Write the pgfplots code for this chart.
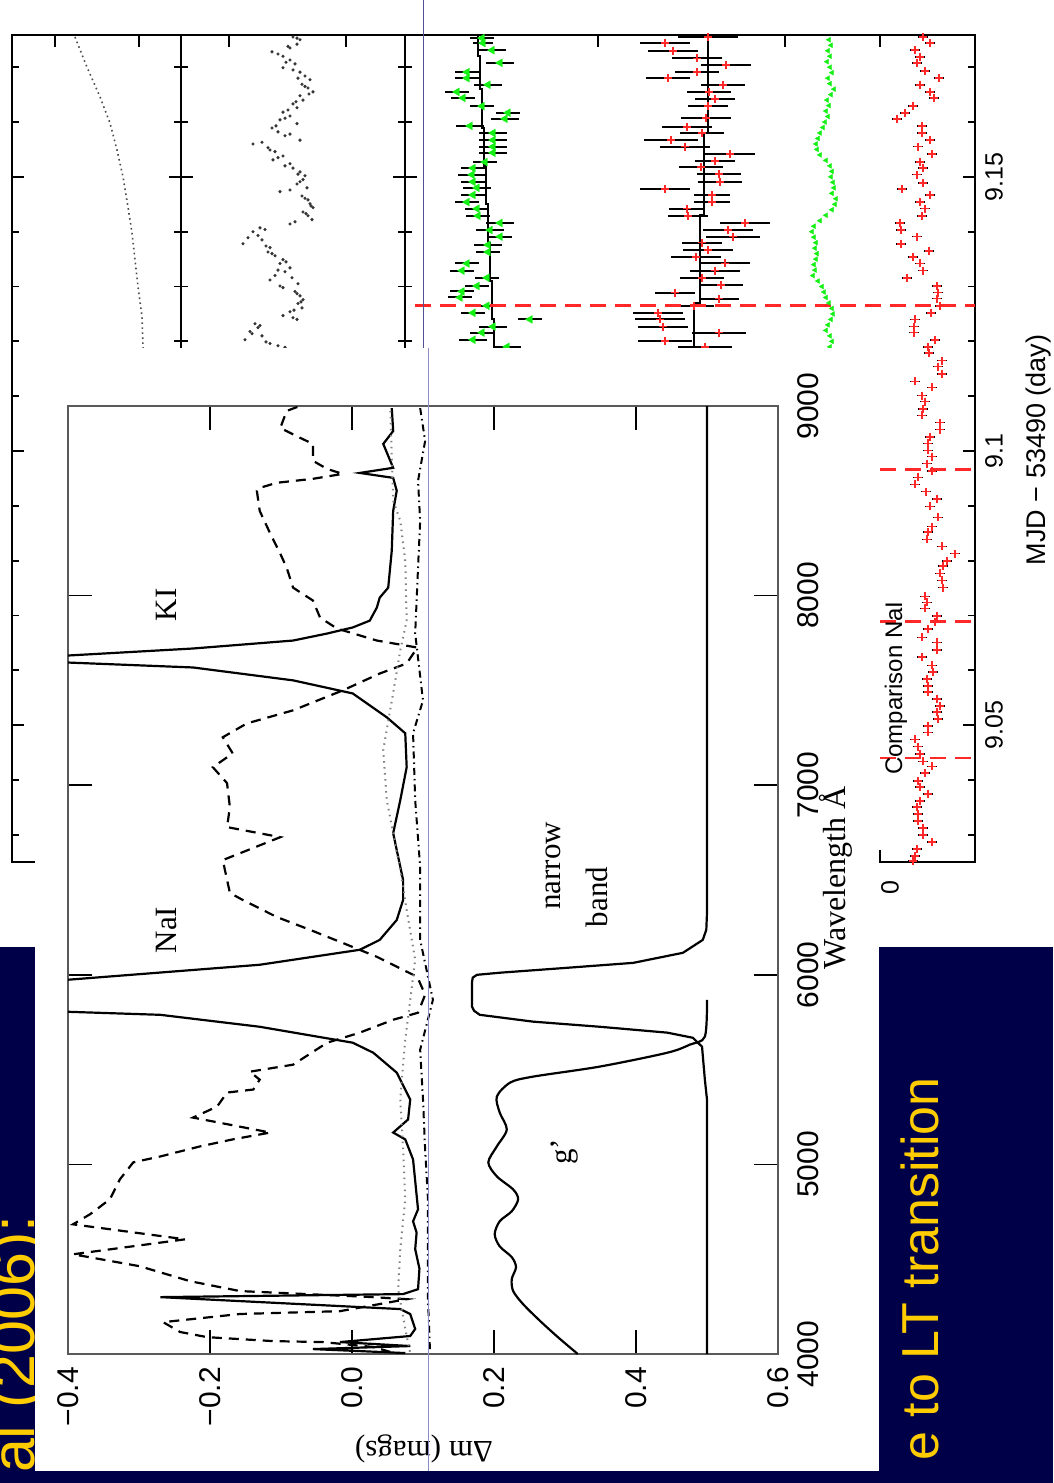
\documentclass[border=0pt]{standalone}
\usepackage{fontspec}
\setmainfont{Liberation Serif}
\newfontfamily\arial{Liberation Sans}
\usepackage{pgfplots}
\pgfplotsset{compat=1.18}
\definecolor{navy}{RGB}{0,0,72}
\definecolor{slideyellow}{RGB}{255,204,0}
\definecolor{lcgreen}{RGB}{20,240,20}
\definecolor{lcred}{RGB}{255,40,40}
\definecolor{thinblue}{RGB}{80,80,150}
\definecolor{thinblue2}{RGB}{140,140,200}
\pgfplotsset{
 lc/.style={scale only axis, height=827pt, anchor=north west,
  ymin=9.02505, ymax=9.17587,
  axis line style={line width=1.8pt, black},
  ytick={9.05,9.1,9.15},
  minor ytick={9.03,9.04,9.06,9.07,9.08,9.09,9.11,9.12,9.13,9.14,9.16,9.17},
  major tick length=12pt, minor tick length=7pt,
  every tick/.style={black, line width=1.8pt},
  yticklabels={}, xticklabels={}},
}
\begin{document}
\begin{tikzpicture}
\useasboundingbox (0pt,0pt) rectangle (1053pt,-1483pt);
\clip (0pt,0pt) rectangle (1053pt,-1483pt);
\fill[navy] (0pt,0pt) rectangle (1053pt,-1483pt);
\node[rotate=90, anchor=base east, inner sep=0pt, text=slideyellow, font=\arial\fontsize{61}{61}\selectfont] at (34pt,-1215pt) {al (2006):};
\node[rotate=90, anchor=base east, inner sep=0pt, text=slideyellow, font=\arial\fontsize{52}{52}\selectfont] at (938pt,-1077pt) {e to LT transition};
\fill[white] (0pt,0pt) rectangle (1053pt,-947pt);

% ---------------- light curves ----------------
\begin{axis}[lc, at={(12pt,-35pt)}, width=169pt, xmin=12, xmax=181, xtick={55,139}]
\addplot[gray!60!black, line width=1.6pt, dash pattern=on 1.6pt off 3.4pt] coordinates {
(75,9.1755) (87,9.1700) (100,9.1646) (110,9.1598) (117,9.1549) (123,9.1500) (128,9.1445) (132,9.1398) (135,9.1349) (138,9.1300) (142,9.1245) (143,9.1190) (146,9.1100)};
\end{axis}

\begin{axis}[lc, at={(181pt,-35pt)}, width=224pt, xmin=181, xmax=405, xtick={229,346}]
\addplot[only marks, mark=*, mark size=1.4pt, gray!40!black] coordinates {
(293,9.1755) (300,9.1750) (297,9.1742) (290,9.1735) (272,9.1728) (283,9.1720) (290,9.1713) (295,9.1706) (283,9.1699) (300,9.1691) (305,9.1684) (310,9.1677) (302,9.1669) (308,9.1662) (313,9.1655) (300,9.1648) (303,9.1640) (293,9.1633) (297,9.1626) (283,9.1618) (290,9.1611) (280,9.1604) (297,9.1597) (272,9.1589) (278,9.1582) (285,9.1575) (300,9.1567) (253,9.1560) (268,9.1553) (275,9.1546) (283,9.1538) (273,9.1531) (290,9.1524) (293,9.1516) (300,9.1509) (305,9.1502) (303,9.1495) (297,9.1487) (307,9.1480) (280,9.1473) (302,9.1465) (308,9.1458) (310,9.1451) (313,9.1444) (303,9.1436) (308,9.1429) (312,9.1422) (290,9.1414) (260,9.1407) (253,9.1400) (258,9.1393) (262,9.1385) (243,9.1378) (270,9.1371) (268,9.1363) (275,9.1356) (283,9.1349) (280,9.1342) (290,9.1334) (285,9.1327) (275,9.1320) (270,9.1312) (298,9.1305) (283,9.1298) (295,9.1291) (300,9.1283) (303,9.1276) (298,9.1269) (302,9.1261) (290,9.1254) (283,9.1247) (297,9.1240) (255,9.1232) (258,9.1225) (250,9.1218) (262,9.1210) (245,9.1203) (270,9.1196) (285,9.1189)
(297,9.1753) (288,9.1738) (278,9.1724) (286,9.1709) (293,9.1695) (298,9.1680) (305,9.1665) (309,9.1651) (296,9.1637) (288,9.1622) (285,9.1607) (276,9.1593) (290,9.1578) (262,9.1563) (270,9.1549) (278,9.1535) (285,9.1520) (298,9.1505) (300,9.1491) (290,9.1476) (305,9.1461) (311,9.1447) (306,9.1433) (295,9.1418) (265,9.1404) (248,9.1389) (266,9.1374) (272,9.1360) (286,9.1345) (278,9.1330) (292,9.1316) (280,9.1301) (297,9.1287) (301,9.1272) (294,9.1257) (293,9.1243) (260,9.1229) (252,9.1214) (266,9.1199) (278,9.1192)};
\end{axis}

\begin{axis}[lc, at={(405pt,-35pt)}, width=570pt, xmin=405, xmax=975, xtick={598,785,880},
  yticklabels={9.05,9.1,9.15}, yticklabel pos=right,
  yticklabel style={rotate=90, anchor=north, inner sep=0pt, font=\arial\fontsize{25}{25}\selectfont},
  yticklabel shift=10pt]
% P3 green with error bars
\addplot[only marks, mark=triangle*, mark size=4.5pt, mark options={rotate=90, fill=lcgreen, draw=lcgreen},
  error bars/.cd, x dir=both, x explicit, error mark=none, error bar style={line width=2pt, black}]
  table[x index=0, y index=1, x error index=2, row sep=\\] {
482 9.1753 12\\ 483 9.1744 10\\ 492 9.1731 14\\ 500 9.1708 14\\ 467 9.1691 12\\ 467 9.1680 12\\
488 9.1668 14\\ 457 9.1655 12\\ 463 9.1644 12\\ 482 9.1629 12\\ 508 9.1617 12\\ 505 9.1606 14\\
470 9.1593 14\\ 493 9.1580 14\\ 493 9.1567 14\\ 493 9.1555 14\\ 493 9.1544 14\\ 485 9.1527 12\\
473 9.1516 12\\ 472 9.1504 14\\ 473 9.1491 12\\ 477 9.1480 14\\ 473 9.1467 12\\ 467 9.1454 12\\
477 9.1442 12\\ 478 9.1429 12\\ 500 9.1416 14\\ 490 9.1403 14\\ 500 9.1391 12\\ 488 9.1376 14\\
488 9.1363 12\\ 467 9.1342 12\\ 462 9.1329 12\\ 487 9.1316 12\\ 477 9.1301 12\\ 462 9.1291 12\\
460 9.1280 12\\ 487 9.1265 14\\ 473 9.1252 12\\ 530 9.1240 12\\ 493 9.1227 14\\ 482 9.1216 12\\
473 9.1203 14\\ 507 9.1190 14\\};
\addplot[black, line width=2pt] coordinates {(478,9.1759) (478,9.1720) (480,9.1720) (480,9.1660) (482,9.1660) (482,9.1590) (484,9.1590) (484,9.1520) (486,9.1520) (486,9.1450) (488,9.1450) (488,9.1380) (490,9.1380) (490,9.1310) (492,9.1310) (492,9.1240) (494,9.1240) (494,9.1180) (497,9.1180) (497,9.1100)};
% P4 red with long error bars
\addplot[only marks, mark=+, mark size=4pt, mark options={lcred, line width=1.6pt},
  error bars/.cd, x dir=both, x explicit, error mark=none, error bar style={line width=2pt, black}]
  table[x index=0, y index=1, x error index=2, row sep=\\] {
708 9.1755 30\\ 665 9.1744 25\\ 673 9.1729 25\\ 697 9.1716 25\\ 726 9.1704 25\\ 697 9.1691 22\\
668 9.1680 22\\ 723 9.1668 22\\ 709 9.1655 22\\ 715 9.1642 20\\ 708 9.1629 20\\ 706 9.1607 25\\
687 9.1591 25\\ 702 9.1580 22\\ 671 9.1567 27\\ 685 9.1555 25\\ 730 9.1542 25\\ 715 9.1529 20\\
701 9.1518 22\\ 719 9.1505 22\\ 720 9.1491 22\\ 665 9.1478 25\\ 712 9.1467 18\\ 712 9.1454 18\\
687 9.1442 18\\ 688 9.1429 20\\ 745 9.1416 25\\ 728 9.1403 25\\ 733 9.1391 27\\ 702 9.1380 20\\
708 9.1367 25\\ 696 9.1354 25\\ 725 9.1342 25\\ 715 9.1329 25\\ 702 9.1316 22\\ 721 9.1303 22\\
675 9.1289 20\\ 719 9.1278 20\\ 694 9.1265 20\\ 658 9.1252 25\\ 660 9.1240 25\\ 663 9.1227 25\\
719 9.1216 27\\ 665 9.1201 27\\ 705 9.1190 27\\};
\addplot[black, line width=2pt] coordinates {(708,9.1759) (708,9.1580) (704,9.1580) (704,9.1430) (700,9.1430) (700,9.1270) (694,9.1270) (694,9.1100)};
% P5 green dense
\addplot[only marks, mark=triangle*, mark size=2.8pt, mark options={rotate=90, fill=lcgreen, draw=lcgreen}]
  table[x index=0, y index=1, row sep=\\] {
829 9.175\\ 831 9.174\\ 828 9.173\\ 830 9.172\\ 827 9.171\\ 830 9.170\\ 832 9.169\\ 828 9.168\\
830 9.167\\ 834 9.166\\ 831 9.165\\ 827 9.164\\ 829 9.163\\ 826 9.162\\ 828 9.161\\ 825 9.160\\
823 9.159\\ 820 9.158\\ 818 9.157\\ 816 9.156\\ 817 9.155\\ 820 9.154\\ 826 9.153\\ 830 9.152\\
832 9.151\\ 831 9.150\\ 833 9.149\\ 834 9.148\\ 832 9.147\\ 836 9.146\\ 835 9.145\\ 832 9.144\\
826 9.143\\ 820 9.142\\ 814 9.141\\ 812 9.140\\ 814 9.139\\ 816 9.138\\ 815 9.137\\ 817 9.136\\
816 9.135\\ 814 9.134\\ 815 9.133\\ 813 9.132\\ 818 9.131\\ 822 9.130\\ 824 9.129\\ 826 9.128\\
829 9.127\\ 832 9.126\\ 833 9.125\\ 831 9.124\\ 828 9.123\\ 826 9.122\\ 830 9.121\\ 832 9.120\\
830 9.119\\};
% P6 comparison NaI
\addplot[only marks, mark=+, mark size=4pt, mark options={lcred, line width=1.6pt},
  error bars/.cd, x dir=both, x fixed=5, error mark=none, error bar style={line width=1.6pt, black}]
  table[x index=0, y index=1, row sep=\\] {
923 9.1755\\ 930 9.1744\\ 915 9.1731\\ 920 9.1719\\ 917 9.1708\\ 925 9.1693\\ 939 9.1680\\ 920 9.1668\\
930 9.1655\\ 934 9.1644\\ 913 9.1629\\ 905 9.1617\\ 897 9.1606\\ 922 9.1593\\ 922 9.1580\\ 930 9.1567\\
918 9.1555\\ 932 9.1542\\ 920 9.1527\\ 923 9.1516\\ 917 9.1504\\ 923 9.1489\\ 902 9.1478\\ 930 9.1467\\
920 9.1454\\ 925 9.1442\\ 922 9.1429\\ 900 9.1416\\ 901 9.1403\\ 917 9.1391\\ 901 9.1378\\ 929 9.1365\\
913 9.1354\\ 920 9.1342\\ 923 9.1329\\ 907 9.1316\\ 937 9.1301\\ 938 9.1289\\ 937 9.1278\\ 940 9.1265\\
931 9.1252\\ 915 9.1240\\ 914 9.1227\\ 914 9.1216\\ 935 9.1203\\ 928 9.1190\\ 929 9.1179\\ 942 9.1165\\
938 9.1154\\ 942 9.1141\\ 915 9.1127\\ 932 9.1116\\ 922 9.1101\\ 925 9.1090\\ 923 9.1077\\ 922 9.1065\\
940 9.1052\\ 940 9.1039\\ 930 9.1026\\ 928 9.1014\\ 928 9.1001\\ 932 9.0990\\ 927 9.0977\\ 932 9.0964\\
918 9.0952\\ 915 9.0939\\ 926 9.0926\\ 937 9.0912\\ 930 9.0899\\ 938 9.0879\\ 932 9.0862\\ 928 9.0852\\
927 9.0839\\ 942 9.0826\\ 955 9.0813\\ 947 9.0799\\ 943 9.0790\\ 940 9.0777\\ 942 9.0764\\ 943 9.0751\\
925 9.0735\\ 927 9.0724\\ 925 9.0713\\ 937 9.0699\\ 935 9.0688\\ 928 9.0675\\ 922 9.0660\\ 937 9.0651\\
937 9.0637\\ 922 9.0624\\ 932 9.0609\\ 933 9.0597\\ 927 9.0584\\ 928 9.0571\\ 928 9.0560\\ 937 9.0548\\
940 9.0535\\ 937 9.0524\\ 938 9.0511\\ 928 9.0498\\ 928 9.0487\\ 915 9.0474\\ 918 9.0461\\ 920 9.0448\\
923 9.0434\\ 932 9.0425\\ 925 9.0413\\ 918 9.0398\\ 920 9.0387\\ 928 9.0374\\ 920 9.0362\\ 917 9.0351\\
918 9.0338\\ 918 9.0325\\ 923 9.0312\\ 923 9.0300\\ 932 9.0287\\ 917 9.0274\\ 915 9.0261\\ 913 9.0252\\};
% red dashed markers of time
\addplot[lcred, line width=2.5pt, dash pattern=on 16pt off 9pt] coordinates {(415,9.1265) (975,9.1265)};
\addplot[lcred, line width=2.5pt, dash pattern=on 16pt off 9pt] coordinates {(880,9.0966) (975,9.0966)};
\addplot[lcred, line width=2.5pt, dash pattern=on 16pt off 9pt] coordinates {(880,9.0689) (975,9.0689)};
\addplot[lcred, line width=2.5pt, dash pattern=on 16pt off 9pt] coordinates {(880,9.0440) (975,9.0440)};
\end{axis}
\node[rotate=90, inner sep=0pt, font=\arial\fontsize{25}{25}\selectfont] at (890pt,-888pt) {0};
\node[rotate=90, anchor=base, inner sep=0pt, font=\arial\fontsize{24}{24}\selectfont] at (902pt,-688pt) {Comparison NaI};
\node[rotate=90, anchor=base, inner sep=0pt, font=\arial\fontsize{27}{27}\selectfont] at (1045pt,-450pt) {MJD − 53490 (day)};

% ---------------- filter figure ----------------
\fill[white] (35pt,-348pt) rectangle (879pt,-1471pt);
\begin{axis}[scale only axis, at={(68pt,-406pt)}, anchor=north west, width=710pt, height=948pt,
  xmin=-0.4, xmax=0.6, ymin=4000, ymax=9000,
  axis line style={line width=1.8pt, gray!70!black},
  xtick={-0.4,-0.2,0,0.2,0.4,0.6}, xticklabels={−0.4,−0.2,0.0,0.2,0.4,0.6},
  ytick={4000,5000,6000,7000,8000,9000}, yticklabels={4000,5000,6000,7000,8000,9000},
  major tick length=24pt, every tick/.style={black, line width=1.6pt},
  tick label style={font=\arial\fontsize{30}{30}\selectfont, inner sep=0pt},
  xticklabel style={rotate=90, anchor=east}, xticklabel shift=13pt,
  yticklabel pos=right, yticklabel style={rotate=90, anchor=north}, yticklabel shift=19pt]
% solid: spectrum with NaI and KI filters
\addplot[black, line width=2.2pt] coordinates {
(0.056,8989) (0.058,8868) (0.044,8800) (0.058,8674) (0.011,8647) (0.058,8621) (0.063,8553) (0.058,8447)
(0.056,8237) (0.051,8042) (0.039,7989) (0.035,7937) (0.025,7868) (0.001,7832) (-0.035,7800) (-0.083,7763)
(-0.224,7721) (-0.400,7684) (-0.707,7674) (-0.707,7653) (-0.400,7647) (-0.224,7621) (-0.083,7553) (0.001,7484)
(0.049,7358) (0.075,7274) (0.077,7095) (0.068,6921) (0.058,6747) (0.063,6658) (0.072,6500) (0.072,6395)
(0.063,6289) (0.039,6184) (0.011,6132) (-0.130,6053) (-0.400,5974) (-0.707,5958) (-0.707,5821) (-0.400,5805)
(-0.270,5789) (-0.130,5726) (0.001,5642) (0.030,5589) (0.063,5484) (0.082,5342) (0.079,5237) (0.058,5168)
(0.075,5132) (0.086,5026) (0.093,4763) (0.086,4700) (0.091,4640) (0.089,4553) (0.095,4450) (0.093,4342)
(0.072,4316) (-0.270,4300) (0.068,4237) (0.082,4211) (0.089,4132) (0.082,4095) (-0.017,4063) (0.082,4042)
(-0.055,4026) (0.075,4005)};
% dashed spectrum
\addplot[black, line width=2.2pt, dash pattern=on 10pt off 7pt] coordinates {
(-0.077,8995) (-0.092,8974) (-0.101,8884) (-0.073,8832) (-0.055,8800) (-0.055,8711) (-0.035,8668) (-0.013,8642)
(-0.055,8616) (-0.106,8595) (-0.130,8568) (-0.134,8553) (-0.130,8447) (-0.115,8326) (-0.101,8221) (-0.092,8147)
(-0.083,8042) (-0.055,7974) (-0.045,7884) (-0.021,7826) (0.035,7763) (0.092,7726) (0.077,7642) (0.039,7589)
(-0.013,7500) (-0.083,7395) (-0.148,7326) (-0.182,7253) (-0.168,7168) (-0.196,7095) (-0.176,7011) (-0.172,6884)
(-0.176,6779) (-0.101,6726) (-0.182,6605) (-0.172,6432) (-0.154,6395) (-0.106,6305) (-0.059,6237) (-0.013,6168)
(0.035,6095) (0.092,5989) (0.103,5895) (0.093,5800) (0.058,5763) (0.011,5695) (-0.035,5642) (-0.083,5526)
(-0.144,5489) (-0.130,5447) (-0.139,5395) (-0.176,5379) (-0.190,5305) (-0.224,5247) (-0.115,5168) (-0.168,5132)
(-0.214,5095) (-0.270,5042) (-0.308,5011) (-0.327,4921) (-0.341,4816) (-0.369,4737) (-0.393,4684) (-0.235,4605)
(-0.393,4526) (-0.299,4463) (-0.228,4384) (-0.158,4332) (-0.063,4316) (0.030,4300) (0.077,4289) (-0.017,4226)
(-0.158,4211) (-0.266,4168) (-0.242,4116) (-0.204,4089) (-0.111,4068) (-0.041,4063) (0.030,4037) (0.054,4011)};
% dotted
\addplot[gray, line width=2pt, dash pattern=on 1.5pt off 4.5pt] coordinates {
(0.054,8974) (0.058,8500) (0.068,8395) (0.075,8184) (0.077,7868) (0.068,7711) (0.061,7553) (0.044,7184)
(0.049,6921) (0.058,6747) (0.068,6553) (0.077,6342) (0.089,6079) (0.082,5868) (0.075,5658) (0.068,5342)
(0.072,5079) (0.075,4816) (0.068,4553) (0.065,4342) (0.075,4132) (0.082,4005)};
% dash-dot
\addplot[black, line width=2pt, dash pattern=on 7pt off 4pt on 1.5pt off 4pt] coordinates {
(0.096,8989) (0.103,8816) (0.093,8605) (0.096,8395) (0.093,8147) (0.089,7800) (0.100,7447) (0.086,7274)
(0.089,6921) (0.096,6568) (0.096,6184) (0.114,5868) (0.096,5605) (0.100,5342) (0.103,5079) (0.107,4816)
(0.107,4553) (0.107,4289) (0.110,4005)};
% narrow band filter with its zero line
\addplot[black, line width=2.2pt] coordinates {
(0.500,9000) (0.500,6326) (0.499,6237) (0.494,6184) (0.466,6116) (0.396,6063) (0.303,6037) (0.208,6011)
(0.176,6000) (0.170,5985) (0.169,5960) (0.169,5832) (0.172,5810) (0.180,5789) (0.255,5753) (0.349,5726)
(0.444,5695) (0.480,5668) (0.493,5621) (0.497,5447) (0.500,5342) (0.500,4000)};
% g' filter
\addplot[black, line width=2.2pt, smooth] coordinates {
(0.500,5868) (0.497,5674) (0.476,5632) (0.444,5589) (0.349,5516) (0.255,5463) (0.223,5432) (0.204,5358)
(0.208,5274) (0.218,5184) (0.204,5095) (0.192,5011) (0.204,4937) (0.227,4868) (0.234,4816) (0.225,4753)
(0.208,4700) (0.201,4632) (0.208,4568) (0.225,4511) (0.231,4458) (0.225,4395) (0.227,4332) (0.241,4263)
(0.265,4174) (0.290,4089) (0.318,4000)};
\end{axis}
\node[rotate=90, font=\fontsize{31}{31}\selectfont] at (166pt,-930pt) {NaI};
\node[rotate=90, font=\fontsize{31}{31}\selectfont] at (166pt,-605pt) {KI};
\node[rotate=90, font=\fontsize{31}{31}\selectfont] at (553pt,-866pt) {narrow};
\node[rotate=90, font=\fontsize{31}{31}\selectfont] at (597pt,-897pt) {band};
\node[rotate=90, font=\fontsize{31}{31}\selectfont] at (565pt,-1152pt) {g’};
\node[rotate=90, anchor=base, inner sep=0pt, font=\fontsize{32}{32}\selectfont] at (845pt,-878pt) {Wavelength Å};
\node[rotate=180, anchor=base, inner sep=0pt, font=\fontsize{31}{31}\selectfont] at (424pt,-1441pt) {Δm (mags)};

\draw[thinblue, line width=1pt] (423pt,0pt) -- (423pt,-348pt);
\draw[thinblue2, line width=1pt] (428pt,-348pt) -- (428pt,-1471pt);
\end{tikzpicture}
\end{document}
